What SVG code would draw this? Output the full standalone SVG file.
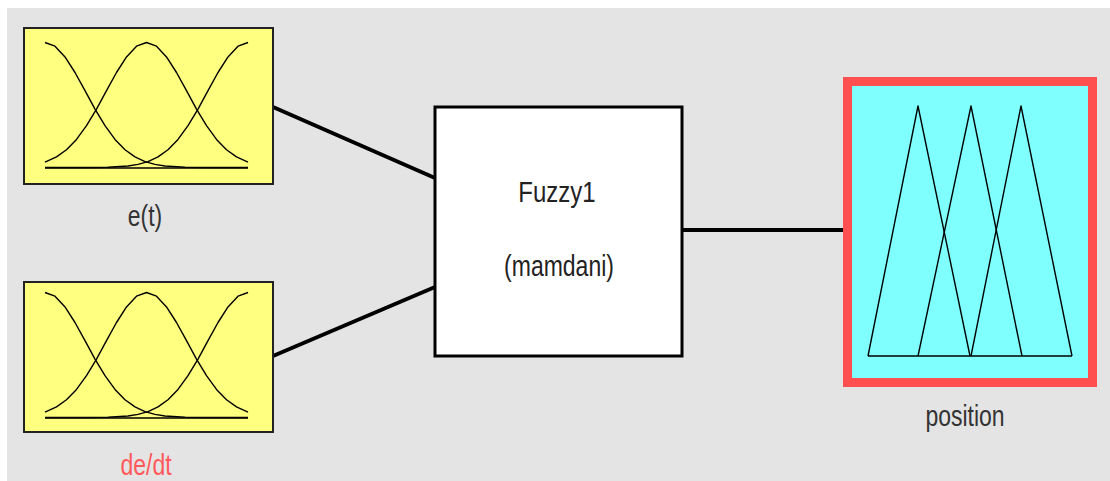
<svg xmlns="http://www.w3.org/2000/svg" width="1110" height="481" viewBox="0 0 1110 481">
  <style>
    .mf { fill: none; stroke: #000; stroke-width: 1.4; stroke-linejoin: round; }
    .inbox { fill: #ffff80; stroke: #222; stroke-width: 2; }
    .conn { stroke: #000; stroke-width: 4; fill: none; }
    .lbl { font-family: "Liberation Sans", Arial, sans-serif; font-size: 23px; text-anchor: middle; fill: #333; }
  </style>
  <defs>
    <g id="gauss3">
      <polyline class="mf" points="45,42.5 55,46.2 65,56.9 75,72.5 85,90.7 95,109.1 105,125.7 115,139.4 125,149.7 135,156.9 145,161.6 155,164.4 165,166 185,167.2 205,167.45 248,167.5"/>
      <polyline class="mf" points="45,162.1 56.5,156.9 66.5,149.7 76.5,139.4 86.5,125.7 96.5,109.1 106.5,90.7 116.5,72.5 126.5,56.9 136.5,46.2 146.5,42.5 156.5,46.2 166.5,56.9 176.5,72.5 186.5,90.7 196.5,109.1 206.5,125.7 216.5,139.4 226.5,149.7 236.5,156.9 248,162.1"/>
      <polyline class="mf" points="248,42.5 238,46.2 228,56.9 218,72.5 208,90.7 198,109.1 188,125.7 178,139.4 168,149.7 158,156.9 148,161.6 138,164.4 128,166 108,167.2 88,167.45 45,167.5"/>
      <line class="mf" x1="45" y1="168" x2="248" y2="168"/>
    </g>
  </defs>
  <rect x="7" y="8" width="1103" height="473" fill="#e4e4e4"/>
  <g id="connectors">
    <line class="conn" x1="273" y1="107" x2="435" y2="178"/>
    <line class="conn" x1="273" y1="356" x2="435" y2="287"/>
    <line class="conn" x1="682" y1="230" x2="844" y2="230"/>
  </g>
  <g id="node-et">
    <rect class="inbox" x="24" y="28" width="249" height="156"/>
    <use href="#gauss3"/>
    <text class="lbl" transform="translate(145,226) scale(1,1.25)">e(t)</text>
  </g>
  <g id="node-dedt">
    <rect class="inbox" x="24" y="282" width="249" height="150"/>
    <use href="#gauss3" transform="translate(0,250)"/>
    <text class="lbl" transform="translate(146,475) scale(1,1.25)" fill="#ff5a5a" style="fill:#ff5a5a">de/dt</text>
  </g>
  <g id="node-fuzzy">
    <rect x="435" y="107" width="247" height="249" fill="#fff" stroke="#000" stroke-width="3"/>
    <text class="lbl" transform="translate(557,202) scale(1,1.25)" style="font-size:24px;fill:#222">Fuzzy1</text>
    <text class="lbl" transform="translate(559,276) scale(1,1.25)" style="fill:#222">(mamdani)</text>
  </g>
  <g id="node-position">
    <rect x="847.5" y="81.5" width="245" height="301" fill="#80ffff" stroke="#ff4f4f" stroke-width="9"/>
    <polyline class="mf" points="868,356 918,106 970,356"/>
    <polyline class="mf" points="918,356 971,106 1022,356"/>
    <polyline class="mf" points="971,356 1021,106 1072,356"/>
    <line class="mf" x1="868" y1="356" x2="1072" y2="356"/>
    <text class="lbl" transform="translate(965,426) scale(1,1.25)">position</text>
  </g>
</svg>
